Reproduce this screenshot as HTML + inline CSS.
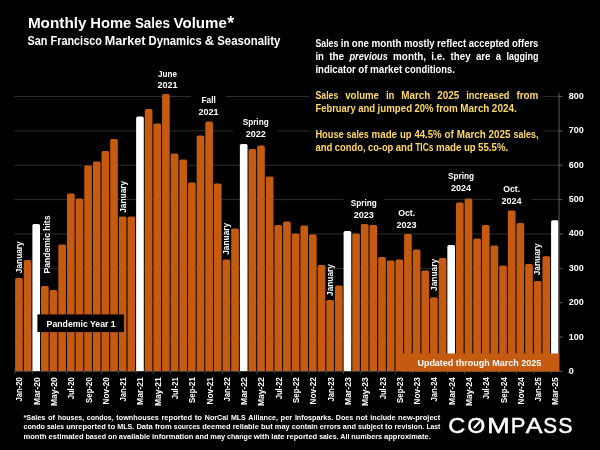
<!DOCTYPE html>
<html lang="en"><head><meta charset="utf-8"><title>Monthly Home Sales Volume</title>
<style>
html,body{margin:0;padding:0;background:#000;}
body{width:600px;height:450px;overflow:hidden;position:relative;}
svg{position:absolute;left:0;top:0;display:block;}
svg text{font-family:'Liberation Sans', sans-serif;font-weight:bold;fill:#fff;}
</style></head><body>
<svg width="600" height="450" viewBox="0 0 600 450">
<rect width="600" height="450" fill="#000"/>
<rect x="14.3" y="336.62" width="548" height="1" fill="#2e2e2e"/>
<rect x="14.3" y="302.25" width="548" height="1" fill="#2e2e2e"/>
<rect x="14.3" y="267.88" width="548" height="1" fill="#2e2e2e"/>
<rect x="14.3" y="233.50" width="548" height="1" fill="#2e2e2e"/>
<rect x="14.3" y="199.12" width="548" height="1" fill="#2e2e2e"/>
<rect x="14.3" y="164.75" width="548" height="1" fill="#2e2e2e"/>
<rect x="14.3" y="130.38" width="548" height="1" fill="#2e2e2e"/>
<rect x="14.3" y="96.00" width="548" height="1" fill="#2e2e2e"/>
<rect x="309" y="36" width="234" height="122" fill="#000"/>
<rect x="191" y="93" width="35" height="27" fill="#000"/>
<rect x="233" y="114" width="44" height="27" fill="#000"/>
<rect x="343.7" y="195" width="40" height="26" fill="#000"/>
<rect x="389" y="205" width="35" height="26" fill="#000"/>
<rect x="444" y="168" width="34" height="26" fill="#000"/>
<rect x="492" y="182" width="40" height="26" fill="#000"/>
<path d="M15.10 371.5 V279.60 Q15.10 278.00 16.70 278.00 H21.15 Q22.75 278.00 22.75 279.60 V371.5 Z" fill="#c55a11"/>
<path d="M23.75 371.5 V261.60 Q23.75 260.00 25.35 260.00 H29.80 Q31.40 260.00 31.40 261.60 V371.5 Z" fill="#c55a11"/>
<path d="M32.39 371.5 V225.60 Q32.39 224.00 33.99 224.00 H38.44 Q40.04 224.00 40.04 225.60 V371.5 Z" fill="#fff"/>
<path d="M41.04 371.5 V287.60 Q41.04 286.00 42.64 286.00 H47.09 Q48.69 286.00 48.69 287.60 V371.5 Z" fill="#c55a11"/>
<path d="M49.68 371.5 V291.60 Q49.68 290.00 51.28 290.00 H55.73 Q57.33 290.00 57.33 291.60 V371.5 Z" fill="#c55a11"/>
<path d="M58.32 371.5 V246.00 Q58.32 244.40 59.92 244.40 H64.38 Q65.97 244.40 65.97 246.00 V371.5 Z" fill="#c55a11"/>
<path d="M66.97 371.5 V195.00 Q66.97 193.40 68.57 193.40 H73.02 Q74.62 193.40 74.62 195.00 V371.5 Z" fill="#c55a11"/>
<path d="M75.61 371.5 V200.00 Q75.61 198.40 77.21 198.40 H81.67 Q83.27 198.40 83.27 200.00 V371.5 Z" fill="#c55a11"/>
<path d="M84.26 371.5 V167.00 Q84.26 165.40 85.86 165.40 H90.31 Q91.91 165.40 91.91 167.00 V371.5 Z" fill="#c55a11"/>
<path d="M92.90 371.5 V163.00 Q92.90 161.40 94.50 161.40 H98.95 Q100.55 161.40 100.55 163.00 V371.5 Z" fill="#c55a11"/>
<path d="M101.55 371.5 V152.60 Q101.55 151.00 103.15 151.00 H107.60 Q109.20 151.00 109.20 152.60 V371.5 Z" fill="#c55a11"/>
<path d="M110.19 371.5 V140.60 Q110.19 139.00 111.79 139.00 H116.25 Q117.84 139.00 117.84 140.60 V371.5 Z" fill="#c55a11"/>
<path d="M118.84 371.5 V218.10 Q118.84 216.50 120.44 216.50 H124.89 Q126.49 216.50 126.49 218.10 V371.5 Z" fill="#c55a11"/>
<path d="M127.48 371.5 V218.00 Q127.48 216.40 129.08 216.40 H133.53 Q135.13 216.40 135.13 218.00 V371.5 Z" fill="#c55a11"/>
<path d="M136.13 371.5 V118.00 Q136.13 116.40 137.73 116.40 H142.18 Q143.78 116.40 143.78 118.00 V371.5 Z" fill="#fff"/>
<path d="M144.77 371.5 V110.60 Q144.77 109.00 146.37 109.00 H150.82 Q152.42 109.00 152.42 110.60 V371.5 Z" fill="#c55a11"/>
<path d="M153.42 371.5 V125.20 Q153.42 123.60 155.02 123.60 H159.47 Q161.07 123.60 161.07 125.20 V371.5 Z" fill="#c55a11"/>
<path d="M162.06 371.5 V95.60 Q162.06 94.00 163.66 94.00 H168.12 Q169.72 94.00 169.72 95.60 V371.5 Z" fill="#c55a11"/>
<path d="M170.71 371.5 V155.00 Q170.71 153.40 172.31 153.40 H176.76 Q178.36 153.40 178.36 155.00 V371.5 Z" fill="#c55a11"/>
<path d="M179.35 371.5 V161.20 Q179.35 159.60 180.95 159.60 H185.41 Q187.00 159.60 187.00 161.20 V371.5 Z" fill="#c55a11"/>
<path d="M188.00 371.5 V184.00 Q188.00 182.40 189.60 182.40 H194.05 Q195.65 182.40 195.65 184.00 V371.5 Z" fill="#c55a11"/>
<path d="M196.64 371.5 V137.20 Q196.64 135.60 198.24 135.60 H202.69 Q204.29 135.60 204.29 137.20 V371.5 Z" fill="#c55a11"/>
<path d="M205.29 371.5 V123.00 Q205.29 121.40 206.89 121.40 H211.34 Q212.94 121.40 212.94 123.00 V371.5 Z" fill="#c55a11"/>
<path d="M213.93 371.5 V185.00 Q213.93 183.40 215.53 183.40 H219.98 Q221.58 183.40 221.58 185.00 V371.5 Z" fill="#c55a11"/>
<path d="M222.58 371.5 V261.00 Q222.58 259.40 224.18 259.40 H228.63 Q230.23 259.40 230.23 261.00 V371.5 Z" fill="#c55a11"/>
<path d="M231.22 371.5 V230.00 Q231.22 228.40 232.82 228.40 H237.28 Q238.88 228.40 238.88 230.00 V371.5 Z" fill="#c55a11"/>
<path d="M239.87 371.5 V145.60 Q239.87 144.00 241.47 144.00 H245.92 Q247.52 144.00 247.52 145.60 V371.5 Z" fill="#fff"/>
<path d="M248.51 371.5 V150.60 Q248.51 149.00 250.11 149.00 H254.56 Q256.16 149.00 256.16 150.60 V371.5 Z" fill="#c55a11"/>
<path d="M257.16 371.5 V147.00 Q257.16 145.40 258.76 145.40 H263.21 Q264.81 145.40 264.81 147.00 V371.5 Z" fill="#c55a11"/>
<path d="M265.81 371.5 V178.00 Q265.81 176.40 267.41 176.40 H271.85 Q273.45 176.40 273.45 178.00 V371.5 Z" fill="#c55a11"/>
<path d="M274.45 371.5 V226.60 Q274.45 225.00 276.05 225.00 H280.50 Q282.10 225.00 282.10 226.60 V371.5 Z" fill="#c55a11"/>
<path d="M283.10 371.5 V223.00 Q283.10 221.40 284.70 221.40 H289.14 Q290.75 221.40 290.75 223.00 V371.5 Z" fill="#c55a11"/>
<path d="M291.74 371.5 V235.20 Q291.74 233.60 293.34 233.60 H297.79 Q299.39 233.60 299.39 235.20 V371.5 Z" fill="#c55a11"/>
<path d="M300.38 371.5 V227.00 Q300.38 225.40 301.99 225.40 H306.43 Q308.03 225.40 308.03 227.00 V371.5 Z" fill="#c55a11"/>
<path d="M309.03 371.5 V236.10 Q309.03 234.50 310.63 234.50 H315.08 Q316.68 234.50 316.68 236.10 V371.5 Z" fill="#c55a11"/>
<path d="M317.68 371.5 V266.60 Q317.68 265.00 319.28 265.00 H323.72 Q325.32 265.00 325.32 266.60 V371.5 Z" fill="#c55a11"/>
<path d="M326.32 371.5 V301.60 Q326.32 300.00 327.92 300.00 H332.37 Q333.97 300.00 333.97 301.60 V371.5 Z" fill="#c55a11"/>
<path d="M334.97 371.5 V287.20 Q334.97 285.60 336.57 285.60 H341.01 Q342.62 285.60 342.62 287.20 V371.5 Z" fill="#c55a11"/>
<path d="M343.61 371.5 V232.60 Q343.61 231.00 345.21 231.00 H349.66 Q351.26 231.00 351.26 232.60 V371.5 Z" fill="#fff"/>
<path d="M352.25 371.5 V235.00 Q352.25 233.40 353.86 233.40 H358.30 Q359.90 233.40 359.90 235.00 V371.5 Z" fill="#c55a11"/>
<path d="M360.90 371.5 V225.60 Q360.90 224.00 362.50 224.00 H366.95 Q368.55 224.00 368.55 225.60 V371.5 Z" fill="#c55a11"/>
<path d="M369.55 371.5 V226.60 Q369.55 225.00 371.15 225.00 H375.59 Q377.19 225.00 377.19 226.60 V371.5 Z" fill="#c55a11"/>
<path d="M378.19 371.5 V258.60 Q378.19 257.00 379.79 257.00 H384.24 Q385.84 257.00 385.84 258.60 V371.5 Z" fill="#c55a11"/>
<path d="M386.83 371.5 V262.00 Q386.83 260.40 388.44 260.40 H392.88 Q394.48 260.40 394.48 262.00 V371.5 Z" fill="#c55a11"/>
<path d="M395.48 371.5 V261.00 Q395.48 259.40 397.08 259.40 H401.53 Q403.13 259.40 403.13 261.00 V371.5 Z" fill="#c55a11"/>
<path d="M404.12 371.5 V235.60 Q404.12 234.00 405.73 234.00 H410.17 Q411.77 234.00 411.77 235.60 V371.5 Z" fill="#c55a11"/>
<path d="M412.77 371.5 V251.00 Q412.77 249.40 414.37 249.40 H418.82 Q420.42 249.40 420.42 251.00 V371.5 Z" fill="#c55a11"/>
<path d="M421.42 371.5 V272.20 Q421.42 270.60 423.02 270.60 H427.46 Q429.06 270.60 429.06 272.20 V371.5 Z" fill="#c55a11"/>
<path d="M430.06 371.5 V298.90 Q430.06 297.30 431.66 297.30 H436.11 Q437.71 297.30 437.71 298.90 V371.5 Z" fill="#c55a11"/>
<path d="M438.70 371.5 V259.60 Q438.70 258.00 440.31 258.00 H444.75 Q446.35 258.00 446.35 259.60 V371.5 Z" fill="#c55a11"/>
<path d="M447.35 371.5 V246.60 Q447.35 245.00 448.95 245.00 H453.40 Q455.00 245.00 455.00 246.60 V371.5 Z" fill="#fff"/>
<path d="M456.00 371.5 V204.20 Q456.00 202.60 457.60 202.60 H462.04 Q463.64 202.60 463.64 204.20 V371.5 Z" fill="#c55a11"/>
<path d="M464.64 371.5 V200.20 Q464.64 198.60 466.24 198.60 H470.69 Q472.29 198.60 472.29 200.20 V371.5 Z" fill="#c55a11"/>
<path d="M473.29 371.5 V240.00 Q473.29 238.40 474.89 238.40 H479.33 Q480.94 238.40 480.94 240.00 V371.5 Z" fill="#c55a11"/>
<path d="M481.93 371.5 V226.60 Q481.93 225.00 483.53 225.00 H487.98 Q489.58 225.00 489.58 226.60 V371.5 Z" fill="#c55a11"/>
<path d="M490.57 371.5 V247.20 Q490.57 245.60 492.18 245.60 H496.62 Q498.22 245.60 498.22 247.20 V371.5 Z" fill="#c55a11"/>
<path d="M499.22 371.5 V267.10 Q499.22 265.50 500.82 265.50 H505.27 Q506.87 265.50 506.87 267.10 V371.5 Z" fill="#c55a11"/>
<path d="M507.87 371.5 V212.00 Q507.87 210.40 509.47 210.40 H513.91 Q515.51 210.40 515.51 212.00 V371.5 Z" fill="#c55a11"/>
<path d="M516.51 371.5 V224.60 Q516.51 223.00 518.11 223.00 H522.56 Q524.16 223.00 524.16 224.60 V371.5 Z" fill="#c55a11"/>
<path d="M525.15 371.5 V265.60 Q525.15 264.00 526.75 264.00 H531.20 Q532.80 264.00 532.80 265.60 V371.5 Z" fill="#c55a11"/>
<path d="M533.80 371.5 V282.60 Q533.80 281.00 535.40 281.00 H539.85 Q541.45 281.00 541.45 282.60 V371.5 Z" fill="#c55a11"/>
<path d="M542.45 371.5 V257.90 Q542.45 256.30 544.05 256.30 H548.50 Q550.10 256.30 550.10 257.90 V371.5 Z" fill="#c55a11"/>
<path d="M551.09 371.5 V221.90 Q551.09 220.30 552.69 220.30 H557.14 Q558.74 220.30 558.74 221.90 V371.5 Z" fill="#fff"/>
<rect x="558.3" y="92.8" width="1.5" height="279" fill="#3c3c3c"/>
<rect x="558.3" y="371.00" width="4.1" height="1" fill="#555"/>
<rect x="558.3" y="336.62" width="4.1" height="1" fill="#555"/>
<rect x="558.3" y="302.25" width="4.1" height="1" fill="#555"/>
<rect x="558.3" y="267.88" width="4.1" height="1" fill="#555"/>
<rect x="558.3" y="233.50" width="4.1" height="1" fill="#555"/>
<rect x="558.3" y="199.12" width="4.1" height="1" fill="#555"/>
<rect x="558.3" y="164.75" width="4.1" height="1" fill="#555"/>
<rect x="558.3" y="130.38" width="4.1" height="1" fill="#555"/>
<rect x="558.3" y="96.00" width="4.1" height="1" fill="#555"/>
<rect x="14.3" y="371.00" width="545" height="1" fill="#3c3c3c"/>
<rect x="14.50" y="371.50" width="1" height="2.2" fill="#4a4a4a"/>
<rect x="31.79" y="371.50" width="1" height="2.2" fill="#4a4a4a"/>
<rect x="49.08" y="371.50" width="1" height="2.2" fill="#4a4a4a"/>
<rect x="66.37" y="371.50" width="1" height="2.2" fill="#4a4a4a"/>
<rect x="83.66" y="371.50" width="1" height="2.2" fill="#4a4a4a"/>
<rect x="100.95" y="371.50" width="1" height="2.2" fill="#4a4a4a"/>
<rect x="118.24" y="371.50" width="1" height="2.2" fill="#4a4a4a"/>
<rect x="135.53" y="371.50" width="1" height="2.2" fill="#4a4a4a"/>
<rect x="152.82" y="371.50" width="1" height="2.2" fill="#4a4a4a"/>
<rect x="170.11" y="371.50" width="1" height="2.2" fill="#4a4a4a"/>
<rect x="187.40" y="371.50" width="1" height="2.2" fill="#4a4a4a"/>
<rect x="204.69" y="371.50" width="1" height="2.2" fill="#4a4a4a"/>
<rect x="221.98" y="371.50" width="1" height="2.2" fill="#4a4a4a"/>
<rect x="239.27" y="371.50" width="1" height="2.2" fill="#4a4a4a"/>
<rect x="256.56" y="371.50" width="1" height="2.2" fill="#4a4a4a"/>
<rect x="273.85" y="371.50" width="1" height="2.2" fill="#4a4a4a"/>
<rect x="291.14" y="371.50" width="1" height="2.2" fill="#4a4a4a"/>
<rect x="308.43" y="371.50" width="1" height="2.2" fill="#4a4a4a"/>
<rect x="325.72" y="371.50" width="1" height="2.2" fill="#4a4a4a"/>
<rect x="343.01" y="371.50" width="1" height="2.2" fill="#4a4a4a"/>
<rect x="360.30" y="371.50" width="1" height="2.2" fill="#4a4a4a"/>
<rect x="377.59" y="371.50" width="1" height="2.2" fill="#4a4a4a"/>
<rect x="394.88" y="371.50" width="1" height="2.2" fill="#4a4a4a"/>
<rect x="412.17" y="371.50" width="1" height="2.2" fill="#4a4a4a"/>
<rect x="429.46" y="371.50" width="1" height="2.2" fill="#4a4a4a"/>
<rect x="446.75" y="371.50" width="1" height="2.2" fill="#4a4a4a"/>
<rect x="464.04" y="371.50" width="1" height="2.2" fill="#4a4a4a"/>
<rect x="481.33" y="371.50" width="1" height="2.2" fill="#4a4a4a"/>
<rect x="498.62" y="371.50" width="1" height="2.2" fill="#4a4a4a"/>
<rect x="515.91" y="371.50" width="1" height="2.2" fill="#4a4a4a"/>
<rect x="533.20" y="371.50" width="1" height="2.2" fill="#4a4a4a"/>
<rect x="550.49" y="371.50" width="1" height="2.2" fill="#4a4a4a"/>
<rect x="567.78" y="371.50" width="1" height="2.2" fill="#4a4a4a"/>
<rect x="402" y="353.5" width="157" height="18" fill="#c55a11"/>
<rect x="37.4" y="314.4" width="86.5" height="17.7" fill="#000"/>
<text x="479.30" y="366.40" font-size="9.35" textLength="123.76" lengthAdjust="spacingAndGlyphs" text-anchor="middle">Updated through March 2025</text>
<text x="46.60" y="326.80" font-size="9.30" textLength="69.11" lengthAdjust="spacingAndGlyphs">Pandemic Year 1</text>
<text x="568.80" y="373.90" font-size="9.21" textLength="5.02" lengthAdjust="spacingAndGlyphs">0</text>
<text x="568.80" y="339.52" font-size="9.21" textLength="15.05" lengthAdjust="spacingAndGlyphs">100</text>
<text x="568.80" y="305.15" font-size="9.21" textLength="15.05" lengthAdjust="spacingAndGlyphs">200</text>
<text x="568.80" y="270.77" font-size="9.21" textLength="15.05" lengthAdjust="spacingAndGlyphs">300</text>
<text x="568.80" y="236.40" font-size="9.21" textLength="15.05" lengthAdjust="spacingAndGlyphs">400</text>
<text x="568.80" y="202.03" font-size="9.21" textLength="15.05" lengthAdjust="spacingAndGlyphs">500</text>
<text x="568.80" y="167.65" font-size="9.21" textLength="15.05" lengthAdjust="spacingAndGlyphs">600</text>
<text x="568.80" y="133.28" font-size="9.21" textLength="15.05" lengthAdjust="spacingAndGlyphs">700</text>
<text x="568.80" y="98.90" font-size="9.21" textLength="15.05" lengthAdjust="spacingAndGlyphs">800</text>
<text transform="translate(22.42 377.20) rotate(-90)" font-size="8.46" textLength="24.40" lengthAdjust="spacingAndGlyphs" text-anchor="end">Jan-20</text>
<text transform="translate(39.71 377.20) rotate(-90)" font-size="8.46" textLength="27.69" lengthAdjust="spacingAndGlyphs" text-anchor="end">Mar-20</text>
<text transform="translate(57.00 377.20) rotate(-90)" font-size="8.46" textLength="28.77" lengthAdjust="spacingAndGlyphs" text-anchor="end">May-20</text>
<text transform="translate(74.29 377.20) rotate(-90)" font-size="8.46" textLength="22.14" lengthAdjust="spacingAndGlyphs" text-anchor="end">Jul-20</text>
<text transform="translate(91.58 377.20) rotate(-90)" font-size="8.46" textLength="25.78" lengthAdjust="spacingAndGlyphs" text-anchor="end">Sep-20</text>
<text transform="translate(108.87 377.20) rotate(-90)" font-size="8.46" textLength="27.20" lengthAdjust="spacingAndGlyphs" text-anchor="end">Nov-20</text>
<text transform="translate(126.16 377.20) rotate(-90)" font-size="8.46" textLength="24.40" lengthAdjust="spacingAndGlyphs" text-anchor="end">Jan-21</text>
<text transform="translate(143.45 377.20) rotate(-90)" font-size="8.46" textLength="27.69" lengthAdjust="spacingAndGlyphs" text-anchor="end">Mar-21</text>
<text transform="translate(160.74 377.20) rotate(-90)" font-size="8.46" textLength="28.77" lengthAdjust="spacingAndGlyphs" text-anchor="end">May-21</text>
<text transform="translate(178.03 377.20) rotate(-90)" font-size="8.46" textLength="22.14" lengthAdjust="spacingAndGlyphs" text-anchor="end">Jul-21</text>
<text transform="translate(195.32 377.20) rotate(-90)" font-size="8.46" textLength="25.78" lengthAdjust="spacingAndGlyphs" text-anchor="end">Sep-21</text>
<text transform="translate(212.61 377.20) rotate(-90)" font-size="8.46" textLength="27.20" lengthAdjust="spacingAndGlyphs" text-anchor="end">Nov-21</text>
<text transform="translate(229.90 377.20) rotate(-90)" font-size="8.46" textLength="24.40" lengthAdjust="spacingAndGlyphs" text-anchor="end">Jan-22</text>
<text transform="translate(247.19 377.20) rotate(-90)" font-size="8.46" textLength="27.69" lengthAdjust="spacingAndGlyphs" text-anchor="end">Mar-22</text>
<text transform="translate(264.48 377.20) rotate(-90)" font-size="8.46" textLength="28.77" lengthAdjust="spacingAndGlyphs" text-anchor="end">May-22</text>
<text transform="translate(281.77 377.20) rotate(-90)" font-size="8.46" textLength="22.14" lengthAdjust="spacingAndGlyphs" text-anchor="end">Jul-22</text>
<text transform="translate(299.06 377.20) rotate(-90)" font-size="8.46" textLength="25.78" lengthAdjust="spacingAndGlyphs" text-anchor="end">Sep-22</text>
<text transform="translate(316.35 377.20) rotate(-90)" font-size="8.46" textLength="27.20" lengthAdjust="spacingAndGlyphs" text-anchor="end">Nov-22</text>
<text transform="translate(333.64 377.20) rotate(-90)" font-size="8.46" textLength="24.40" lengthAdjust="spacingAndGlyphs" text-anchor="end">Jan-23</text>
<text transform="translate(350.93 377.20) rotate(-90)" font-size="8.46" textLength="27.69" lengthAdjust="spacingAndGlyphs" text-anchor="end">Mar-23</text>
<text transform="translate(368.22 377.20) rotate(-90)" font-size="8.46" textLength="28.77" lengthAdjust="spacingAndGlyphs" text-anchor="end">May-23</text>
<text transform="translate(385.51 377.20) rotate(-90)" font-size="8.46" textLength="22.14" lengthAdjust="spacingAndGlyphs" text-anchor="end">Jul-23</text>
<text transform="translate(402.80 377.20) rotate(-90)" font-size="8.46" textLength="25.78" lengthAdjust="spacingAndGlyphs" text-anchor="end">Sep-23</text>
<text transform="translate(420.09 377.20) rotate(-90)" font-size="8.46" textLength="27.20" lengthAdjust="spacingAndGlyphs" text-anchor="end">Nov-23</text>
<text transform="translate(437.38 377.20) rotate(-90)" font-size="8.46" textLength="24.40" lengthAdjust="spacingAndGlyphs" text-anchor="end">Jan-24</text>
<text transform="translate(454.67 377.20) rotate(-90)" font-size="8.46" textLength="27.69" lengthAdjust="spacingAndGlyphs" text-anchor="end">Mar-24</text>
<text transform="translate(471.96 377.20) rotate(-90)" font-size="8.46" textLength="28.77" lengthAdjust="spacingAndGlyphs" text-anchor="end">May-24</text>
<text transform="translate(489.25 377.20) rotate(-90)" font-size="8.46" textLength="22.14" lengthAdjust="spacingAndGlyphs" text-anchor="end">Jul-24</text>
<text transform="translate(506.54 377.20) rotate(-90)" font-size="8.46" textLength="25.78" lengthAdjust="spacingAndGlyphs" text-anchor="end">Sep-24</text>
<text transform="translate(523.83 377.20) rotate(-90)" font-size="8.46" textLength="27.20" lengthAdjust="spacingAndGlyphs" text-anchor="end">Nov-24</text>
<text transform="translate(541.12 377.20) rotate(-90)" font-size="8.46" textLength="24.40" lengthAdjust="spacingAndGlyphs" text-anchor="end">Jan-25</text>
<text transform="translate(558.41 377.20) rotate(-90)" font-size="8.46" textLength="27.69" lengthAdjust="spacingAndGlyphs" text-anchor="end">Mar-25</text>
<text transform="translate(21.52 273.20) rotate(-90)" font-size="9.23" textLength="31.95" lengthAdjust="spacingAndGlyphs">January</text>
<text transform="translate(125.66 212.80) rotate(-90)" font-size="9.23" textLength="31.95" lengthAdjust="spacingAndGlyphs">January</text>
<text transform="translate(229.10 254.80) rotate(-90)" font-size="9.23" textLength="31.95" lengthAdjust="spacingAndGlyphs">January</text>
<text transform="translate(333.44 296.00) rotate(-90)" font-size="9.23" textLength="31.95" lengthAdjust="spacingAndGlyphs">January</text>
<text transform="translate(436.88 290.90) rotate(-90)" font-size="9.23" textLength="31.95" lengthAdjust="spacingAndGlyphs">January</text>
<text transform="translate(540.42 275.30) rotate(-90)" font-size="9.23" textLength="31.95" lengthAdjust="spacingAndGlyphs">January</text>
<text transform="translate(49.60 273.40) rotate(-90)" font-size="9.23" textLength="57.87" lengthAdjust="spacingAndGlyphs">Pandemic hits</text>
<text x="167.50" y="76.70" font-size="9.23" textLength="18.92" lengthAdjust="spacingAndGlyphs" text-anchor="middle">June</text>
<text x="167.50" y="88.40" font-size="9.23" textLength="20.11" lengthAdjust="spacingAndGlyphs" text-anchor="middle">2021</text>
<text x="208.60" y="103.20" font-size="9.23" textLength="14.32" lengthAdjust="spacingAndGlyphs" text-anchor="middle">Fall</text>
<text x="208.60" y="115.40" font-size="9.23" textLength="20.11" lengthAdjust="spacingAndGlyphs" text-anchor="middle">2021</text>
<text x="255.70" y="124.60" font-size="9.23" textLength="26.00" lengthAdjust="spacingAndGlyphs" text-anchor="middle">Spring</text>
<text x="255.70" y="136.80" font-size="9.23" textLength="20.11" lengthAdjust="spacingAndGlyphs" text-anchor="middle">2022</text>
<text x="363.80" y="206.00" font-size="9.23" textLength="26.00" lengthAdjust="spacingAndGlyphs" text-anchor="middle">Spring</text>
<text x="363.80" y="218.20" font-size="9.23" textLength="20.11" lengthAdjust="spacingAndGlyphs" text-anchor="middle">2023</text>
<text x="406.60" y="215.50" font-size="9.23" textLength="16.95" lengthAdjust="spacingAndGlyphs" text-anchor="middle">Oct.</text>
<text x="406.60" y="227.70" font-size="9.23" textLength="20.11" lengthAdjust="spacingAndGlyphs" text-anchor="middle">2023</text>
<text x="461.00" y="178.60" font-size="9.23" textLength="26.00" lengthAdjust="spacingAndGlyphs" text-anchor="middle">Spring</text>
<text x="461.00" y="190.80" font-size="9.23" textLength="20.11" lengthAdjust="spacingAndGlyphs" text-anchor="middle">2024</text>
<text x="511.60" y="192.20" font-size="9.23" textLength="16.95" lengthAdjust="spacingAndGlyphs" text-anchor="middle">Oct.</text>
<text x="511.60" y="204.40" font-size="9.23" textLength="20.11" lengthAdjust="spacingAndGlyphs" text-anchor="middle">2024</text>
<text y="27.70" font-size="15.35"><tspan x="27.90" textLength="58.59" lengthAdjust="spacingAndGlyphs">Monthly</tspan> <tspan x="90.22" textLength="41.01" lengthAdjust="spacingAndGlyphs">Home</tspan> <tspan x="134.96" textLength="34.89" lengthAdjust="spacingAndGlyphs">Sales</tspan> <tspan x="173.57" textLength="53.26" lengthAdjust="spacingAndGlyphs">Volume</tspan><tspan x="227.35" y="28.8" font-size="17.7">*</tspan></text>
<text y="45.00" font-size="12.37"><tspan x="27.50" textLength="19.99" lengthAdjust="spacingAndGlyphs">San</tspan> <tspan x="50.50" textLength="51.39" lengthAdjust="spacingAndGlyphs">Francisco</tspan> <tspan x="104.89" textLength="40.61" lengthAdjust="spacingAndGlyphs">Market</tspan> <tspan x="148.51" textLength="53.34" lengthAdjust="spacingAndGlyphs">Dynamics</tspan> <tspan x="204.86" textLength="9.37" lengthAdjust="spacingAndGlyphs">&amp;</tspan> <tspan x="217.24" textLength="63.15" lengthAdjust="spacingAndGlyphs">Seasonality</tspan></text>
<text y="46.60" font-size="10.09"><tspan x="315.40" textLength="22.94" lengthAdjust="spacingAndGlyphs">Sales</tspan> <tspan x="340.85" textLength="8.49" lengthAdjust="spacingAndGlyphs">in</tspan> <tspan x="351.84" textLength="17.12" lengthAdjust="spacingAndGlyphs">one</tspan> <tspan x="371.46" textLength="30.07" lengthAdjust="spacingAndGlyphs">month</tspan> <tspan x="404.03" textLength="30.55" lengthAdjust="spacingAndGlyphs">mostly</tspan> <tspan x="437.09" textLength="29.18" lengthAdjust="spacingAndGlyphs">reflect</tspan> <tspan x="468.78" textLength="40.77" lengthAdjust="spacingAndGlyphs">accepted</tspan> <tspan x="512.05" textLength="26.35" lengthAdjust="spacingAndGlyphs">offers</tspan></text>
<text y="59.65" font-size="10.09"><tspan x="315.40" textLength="8.49" lengthAdjust="spacingAndGlyphs">in</tspan> <tspan x="329.16" textLength="15.05" lengthAdjust="spacingAndGlyphs">the</tspan> <tspan x="349.48" textLength="38.35" lengthAdjust="spacingAndGlyphs" font-style="italic">previous</tspan> <tspan x="393.10" textLength="32.86" lengthAdjust="spacingAndGlyphs">month,</tspan> <tspan x="431.23" textLength="13.92" lengthAdjust="spacingAndGlyphs">i.e.</tspan> <tspan x="450.43" textLength="20.19" lengthAdjust="spacingAndGlyphs">they</tspan> <tspan x="475.88" textLength="14.68" lengthAdjust="spacingAndGlyphs">are</tspan> <tspan x="495.83" textLength="5.36" lengthAdjust="spacingAndGlyphs">a</tspan> <tspan x="506.46" textLength="31.94" lengthAdjust="spacingAndGlyphs">lagging</tspan></text>
<text y="72.70" font-size="10.09"><tspan x="315.40" textLength="40.32" lengthAdjust="spacingAndGlyphs">indicator</tspan> <tspan x="358.18" textLength="9.27" lengthAdjust="spacingAndGlyphs">of</tspan> <tspan x="369.89" textLength="32.47" lengthAdjust="spacingAndGlyphs">market</tspan> <tspan x="404.82" textLength="49.99" lengthAdjust="spacingAndGlyphs">conditions.</tspan></text>
<text y="98.90" font-size="10.09" style="fill:#ffd966"><tspan x="315.40" textLength="22.94" lengthAdjust="spacingAndGlyphs">Sales</tspan> <tspan x="345.26" textLength="33.74" lengthAdjust="spacingAndGlyphs">volume</tspan> <tspan x="385.92" textLength="8.49" lengthAdjust="spacingAndGlyphs">in</tspan> <tspan x="401.32" textLength="29.06" lengthAdjust="spacingAndGlyphs">March</tspan> <tspan x="437.30" textLength="22.00" lengthAdjust="spacingAndGlyphs">2025</tspan> <tspan x="466.22" textLength="43.32" lengthAdjust="spacingAndGlyphs">increased</tspan> <tspan x="516.45" textLength="21.95" lengthAdjust="spacingAndGlyphs">from</tspan></text>
<text y="111.95" font-size="10.09" style="fill:#ffd966"><tspan x="315.40" textLength="40.30" lengthAdjust="spacingAndGlyphs">February</tspan> <tspan x="358.15" textLength="17.00" lengthAdjust="spacingAndGlyphs">and</tspan> <tspan x="377.60" textLength="34.53" lengthAdjust="spacingAndGlyphs">jumped</tspan> <tspan x="414.58" textLength="18.91" lengthAdjust="spacingAndGlyphs">20%</tspan> <tspan x="435.95" textLength="21.95" lengthAdjust="spacingAndGlyphs">from</tspan> <tspan x="460.35" textLength="29.06" lengthAdjust="spacingAndGlyphs">March</tspan> <tspan x="491.86" textLength="24.89" lengthAdjust="spacingAndGlyphs">2024.</tspan></text>
<text y="137.80" font-size="10.09" style="fill:#ffd966"><tspan x="315.40" textLength="28.29" lengthAdjust="spacingAndGlyphs">House</tspan> <tspan x="346.55" textLength="22.14" lengthAdjust="spacingAndGlyphs">sales</tspan> <tspan x="371.55" textLength="25.47" lengthAdjust="spacingAndGlyphs">made</tspan> <tspan x="399.88" textLength="11.65" lengthAdjust="spacingAndGlyphs">up</tspan> <tspan x="414.39" textLength="27.31" lengthAdjust="spacingAndGlyphs">44.5%</tspan> <tspan x="444.56" textLength="9.27" lengthAdjust="spacingAndGlyphs">of</tspan> <tspan x="456.68" textLength="29.06" lengthAdjust="spacingAndGlyphs">March</tspan> <tspan x="488.60" textLength="22.00" lengthAdjust="spacingAndGlyphs">2025</tspan> <tspan x="513.46" textLength="24.94" lengthAdjust="spacingAndGlyphs">sales,</tspan></text>
<text y="150.85" font-size="10.09" style="fill:#ffd966"><tspan x="315.40" textLength="17.00" lengthAdjust="spacingAndGlyphs">and</tspan> <tspan x="334.85" textLength="30.65" lengthAdjust="spacingAndGlyphs">condo,</tspan> <tspan x="367.96" textLength="25.35" lengthAdjust="spacingAndGlyphs">co-op</tspan> <tspan x="395.76" textLength="17.00" lengthAdjust="spacingAndGlyphs">and</tspan> <tspan x="415.21" textLength="18.34" lengthAdjust="spacingAndGlyphs">TICs</tspan> <tspan x="436.00" textLength="25.47" lengthAdjust="spacingAndGlyphs">made</tspan> <tspan x="463.92" textLength="11.65" lengthAdjust="spacingAndGlyphs">up</tspan> <tspan x="478.02" textLength="30.20" lengthAdjust="spacingAndGlyphs">55.5%.</tspan></text>
<text y="419.70" font-size="7.77"><tspan x="23.50" textLength="21.84" lengthAdjust="spacingAndGlyphs">*Sales</tspan> <tspan x="47.94" textLength="7.14" lengthAdjust="spacingAndGlyphs">of</tspan> <tspan x="57.69" textLength="26.50" lengthAdjust="spacingAndGlyphs">houses,</tspan> <tspan x="86.79" textLength="26.95" lengthAdjust="spacingAndGlyphs">condos,</tspan> <tspan x="116.35" textLength="42.45" lengthAdjust="spacingAndGlyphs">townhouses</tspan> <tspan x="161.41" textLength="30.73" lengthAdjust="spacingAndGlyphs">reported</tspan> <tspan x="194.74" textLength="7.39" lengthAdjust="spacingAndGlyphs">to</tspan> <tspan x="204.73" textLength="23.58" lengthAdjust="spacingAndGlyphs">NorCal</tspan> <tspan x="230.92" textLength="14.79" lengthAdjust="spacingAndGlyphs">MLS</tspan> <tspan x="248.31" textLength="29.70" lengthAdjust="spacingAndGlyphs">Alliance,</tspan> <tspan x="280.62" textLength="11.67" lengthAdjust="spacingAndGlyphs">per</tspan> <tspan x="294.89" textLength="38.35" lengthAdjust="spacingAndGlyphs">Infosparks.</tspan> <tspan x="335.85" textLength="17.31" lengthAdjust="spacingAndGlyphs">Does</tspan> <tspan x="355.76" textLength="11.88" lengthAdjust="spacingAndGlyphs">not</tspan> <tspan x="370.25" textLength="25.27" lengthAdjust="spacingAndGlyphs">include</tspan> <tspan x="398.12" textLength="42.18" lengthAdjust="spacingAndGlyphs">new-project</tspan></text>
<text y="429.45" font-size="7.77"><tspan x="23.50" textLength="21.46" lengthAdjust="spacingAndGlyphs">condo</tspan> <tspan x="47.01" textLength="17.06" lengthAdjust="spacingAndGlyphs">sales</tspan> <tspan x="66.13" textLength="39.70" lengthAdjust="spacingAndGlyphs">unreported</tspan> <tspan x="107.88" textLength="7.39" lengthAdjust="spacingAndGlyphs">to</tspan> <tspan x="117.32" textLength="17.03" lengthAdjust="spacingAndGlyphs">MLS.</tspan> <tspan x="136.40" textLength="16.42" lengthAdjust="spacingAndGlyphs">Data</tspan> <tspan x="154.88" textLength="16.91" lengthAdjust="spacingAndGlyphs">from</tspan> <tspan x="173.84" textLength="26.33" lengthAdjust="spacingAndGlyphs">sources</tspan> <tspan x="202.23" textLength="28.40" lengthAdjust="spacingAndGlyphs">deemed</tspan> <tspan x="232.68" textLength="26.16" lengthAdjust="spacingAndGlyphs">reliable</tspan> <tspan x="260.89" textLength="11.87" lengthAdjust="spacingAndGlyphs">but</tspan> <tspan x="274.82" textLength="14.89" lengthAdjust="spacingAndGlyphs">may</tspan> <tspan x="291.76" textLength="26.04" lengthAdjust="spacingAndGlyphs">contain</tspan> <tspan x="319.85" textLength="20.95" lengthAdjust="spacingAndGlyphs">errors</tspan> <tspan x="342.86" textLength="13.10" lengthAdjust="spacingAndGlyphs">and</tspan> <tspan x="358.01" textLength="25.05" lengthAdjust="spacingAndGlyphs">subject</tspan> <tspan x="385.11" textLength="7.39" lengthAdjust="spacingAndGlyphs">to</tspan> <tspan x="394.56" textLength="29.79" lengthAdjust="spacingAndGlyphs">revision.</tspan> <tspan x="426.40" textLength="13.90" lengthAdjust="spacingAndGlyphs">Last</tspan></text>
<text y="439.20" font-size="7.77"><tspan x="23.50" textLength="23.17" lengthAdjust="spacingAndGlyphs">month</tspan> <tspan x="48.56" textLength="35.02" lengthAdjust="spacingAndGlyphs">estimated</tspan> <tspan x="85.46" textLength="20.64" lengthAdjust="spacingAndGlyphs">based</tspan> <tspan x="108.00" textLength="8.98" lengthAdjust="spacingAndGlyphs">on</tspan> <tspan x="118.87" textLength="31.19" lengthAdjust="spacingAndGlyphs">available</tspan> <tspan x="151.95" textLength="41.51" lengthAdjust="spacingAndGlyphs">information</tspan> <tspan x="195.35" textLength="13.10" lengthAdjust="spacingAndGlyphs">and</tspan> <tspan x="210.34" textLength="14.89" lengthAdjust="spacingAndGlyphs">may</tspan> <tspan x="227.12" textLength="24.77" lengthAdjust="spacingAndGlyphs">change</tspan> <tspan x="253.78" textLength="15.67" lengthAdjust="spacingAndGlyphs">with</tspan> <tspan x="271.33" textLength="13.29" lengthAdjust="spacingAndGlyphs">late</tspan> <tspan x="286.51" textLength="30.73" lengthAdjust="spacingAndGlyphs">reported</tspan> <tspan x="319.13" textLength="19.29" lengthAdjust="spacingAndGlyphs">sales.</tspan> <tspan x="340.31" textLength="9.17" lengthAdjust="spacingAndGlyphs">All</tspan> <tspan x="351.37" textLength="30.77" lengthAdjust="spacingAndGlyphs">numbers</tspan> <tspan x="384.04" textLength="46.73" lengthAdjust="spacingAndGlyphs">approximate.</tspan></text>
<text y="432.6" font-size="22.0" style="font-weight:normal;stroke:#fff;stroke-width:0.45px"><tspan x="448.21" textLength="16.99" lengthAdjust="spacingAndGlyphs">C</tspan><tspan x="467.20" textLength="18.00" lengthAdjust="spacingAndGlyphs">O</tspan><tspan x="486.96" textLength="22.79" lengthAdjust="spacingAndGlyphs">M</tspan><tspan x="510.70" textLength="14.66" lengthAdjust="spacingAndGlyphs">P</tspan><tspan x="525.75" textLength="16.80" lengthAdjust="spacingAndGlyphs">A</tspan><tspan x="543.16" textLength="13.79" lengthAdjust="spacingAndGlyphs">S</tspan><tspan x="558.33" textLength="14.25" lengthAdjust="spacingAndGlyphs">S</tspan></text>
<line x1="474.4" y1="427.5" x2="479.3" y2="422.2" stroke="#fff" stroke-width="2.1" stroke-linecap="round"/>
</svg>
</body></html>
